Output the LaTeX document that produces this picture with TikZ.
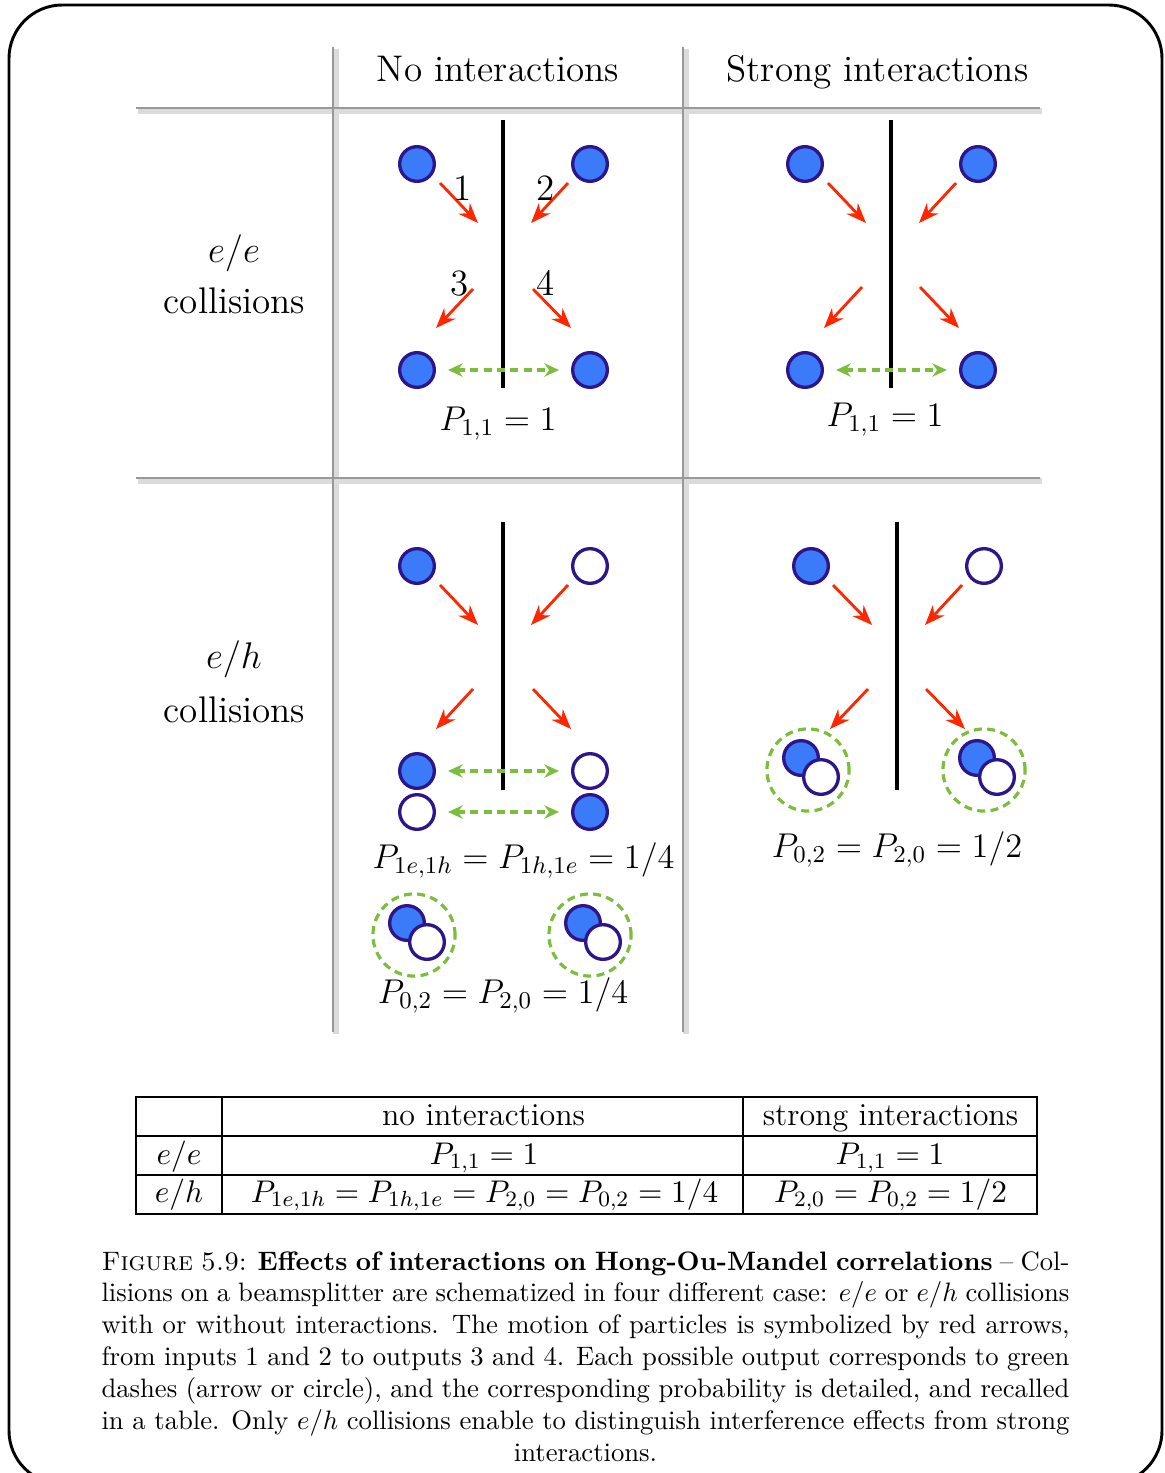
\documentclass[tikz,border=0pt]{standalone}
\usepackage{fix-cm}
\usetikzlibrary{arrows.meta}

\definecolor{partblue}{RGB}{59,123,250}
\definecolor{partedge}{RGB}{45,22,140}
\definecolor{flightred}{RGB}{255,38,0}
\definecolor{outgreen}{RGB}{122,190,60}

\tikzset{
  elec/.style={circle, draw=partedge, fill=partblue, line width=1.25pt, minimum size=13pt, inner sep=0pt},
  hole/.style={elec, fill=white},
  ring/.style={circle, draw=outgreen, dash pattern=on 3pt off 2pt, line width=1.2pt, minimum size=30.8pt, inner sep=0pt},
  splitter/.style={line width=1.3pt},
  flight/.style={draw=flightred, line width=1.05pt, -{Stealth[length=7.5pt,width=5.8pt]}},
  swap/.style={draw=outgreen, line width=1.25pt, dash pattern=on 3pt off 2pt,
    {Stealth[length=5.5pt,width=5pt]}-{Stealth[length=5.5pt,width=5pt]}, shorten <=4.5pt, shorten >=4.5pt},
  lbl/.style={font=\fontsize{13.9}{16}\selectfont, inner sep=0pt, anchor=base},
  mlbl/.style={font=\fontsize{12.9}{15}\selectfont, inner sep=0pt, anchor=base},
  cell/.style={font=\fontsize{12}{14}\selectfont, inner sep=0pt, anchor=base},
  mcell/.style={font=\fontsize{11.75}{14}\selectfont, inner sep=0pt, anchor=base},
  rule/.style={draw=gray!80, line width=1pt},
  ruleshade/.style={draw=gray!28, line width=2pt},
}

\begin{document}
\begin{tikzpicture}[x=0.375pt,y=-0.375pt]
   \useasboundingbox (0,0) rectangle (1164,1473);
   % Frame
   \draw[line width=1.1pt, rounded corners=20pt] (9,5) rectangle (1162,1484);

   % Grid of the figure
   \draw[ruleshade] (138,111) -- (1042,111);
   \draw[ruleshade] (138,481) -- (1042,481);
   \draw[ruleshade] (336,49) -- (336,1034);
   \draw[ruleshade] (686,49) -- (686,1034);
   \draw[rule] (136,108) -- (1040,108);
   \draw[rule] (136,478) -- (1040,478);
   \draw[rule] (333,47) -- (333,1032);
   \draw[rule] (683,47) -- (683,1032);

   % Headers
   \node[lbl] (hd-no) at (498,82) {No interactions};
   \node[lbl] (hd-strong) at (877.5,82) {Strong interactions};
   \node[lbl] (row-ee) at (234,262) {$e/e$};
   \node[lbl] (row-ee2) at (234.5,313) {collisions};
   \node[lbl] (row-eh) at (234,668) {$e/h$};
   \node[lbl] (row-eh2) at (234.5,722) {collisions};

   % First cell - e/e, no interactions
   \begin{scope}[shift={(503,164)}]
       % Draw beamsplitter
       \draw[splitter] (0,-44) -- (0,224);

       % Draw particles
       \node[elec] (a1) at (-86,0) {};
       \node[elec] (a2) at (87,0) {};
       \node[elec] (a3) at (-86,206) {};
       \node[elec] (a4) at (87,206) {};

       % Draw motion
       \foreach \n/\sx/\sy/\ex/\ey in {1/-63/19/-25/59, 2/65/19/28/59, 3/-30/125/-67/164, 4/30/125/68/164}
           \draw[flight] (\sx,\sy) coordinate (a\n s) -- (\ex,\ey) coordinate (a\n e);
       \node[lbl] (a-n1) at (-40,36) {1};
       \node[lbl] (a-n2) at (43,36) {2};
       \node[lbl] (a-n3) at (-43,131) {3};
       \node[lbl] (a-n4) at (43,131) {4};

       % Draw output
       \draw[swap] (a3) -- (a4);
       \node[mlbl] (a-p) at (-5,266) {$P_{1,1}=1$};
   \end{scope}

   % Second cell - e/e, strong interactions
   \begin{scope}[shift={(891,164)}]
       % Draw beamsplitter
       \draw[splitter] (0,-44) -- (0,224);

       % Draw particles
       \node[elec] (b1) at (-86,0) {};
       \node[elec] (b2) at (87,0) {};
       \node[elec] (b3) at (-86,206) {};
       \node[elec] (b4) at (87,206) {};

       % Draw motion
       \foreach \n/\sx/\sy/\ex/\ey in {1/-63/19/-25/59, 2/65/19/28/59, 3/-29/123/-67/164, 4/29/123/68/164}
           \draw[flight] (\sx,\sy) coordinate (b\n s) -- (\ex,\ey) coordinate (b\n e);

       % Draw output
       \draw[swap] (b3) -- (b4);
       \node[mlbl] (b-p) at (-6,262) {$P_{1,1}=1$};
   \end{scope}

   % Third cell - e/h, no interactions
   \begin{scope}[shift={(503,566)}]
       % Draw beamsplitter
       \draw[splitter] (0,-44) -- (0,224);

       % Draw particles
       \node[elec] (c1) at (-86,0) {};
       \node[hole] (c2) at (87,0) {};
       \node[elec] (c3) at (-86,205) {};
       \node[hole] (c4) at (87,205) {};
       \node[hole] (c5) at (-86,246) {};
       \node[elec] (c6) at (87,246) {};

       % Draw motion
       \foreach \n/\sx/\sy/\ex/\ey in {1/-63/19/-25/59, 2/65/19/28/59, 3/-30/123/-67/163, 4/30/123/68/163}
           \draw[flight] (\sx,\sy) coordinate (c\n s) -- (\ex,\ey) coordinate (c\n e);

       % Draw outputs
       \draw[swap] (c3) -- (c4);
       \draw[swap] (c5) -- (c6);
       \node[mlbl] (c-p1) at (20.5,302) {$P_{1e,1h}=P_{1h,1e}=1/4$};

       \node[ring] (c-r1) at (-89,369) {};
       \node[elec] (c-r1e) at (-96,357) {};
       \node[hole] (c-r1h) at (-76,376) {};
       \node[ring] (c-r2) at (87,369) {};
       \node[elec] (c-r2e) at (80,357) {};
       \node[hole] (c-r2h) at (100,376) {};
       \node[mlbl] (c-p2) at (0,437) {$P_{0,2}=P_{2,0}=1/4$};
   \end{scope}

   % Fourth cell - e/h, strong interactions
   \begin{scope}[shift={(897,566)}]
       % Draw beamsplitter
       \draw[splitter] (0,-44) -- (0,224);

       % Draw particles
       \node[elec] (d1) at (-86,0) {};
       \node[hole] (d2) at (87,0) {};

       % Draw motion
       \foreach \n/\sx/\sy/\ex/\ey in {1/-64/19/-25/59, 2/65/19/28/59, 3/-29/123/-67/163, 4/29/123/68/163}
           \draw[flight] (\sx,\sy) coordinate (d\n s) -- (\ex,\ey) coordinate (d\n e);

       % Draw outputs
       \node[ring] (d-r1) at (-89,204) {};
       \node[elec] (d-r1e) at (-96,192) {};
       \node[hole] (d-r1h) at (-76,211) {};
       \node[ring] (d-r2) at (87,204) {};
       \node[elec] (d-r2e) at (80,192) {};
       \node[hole] (d-r2h) at (100,211) {};
       \node[mlbl] (d-p) at (0,291) {$P_{0,2}=P_{2,0}=1/2$};
   \end{scope}

   % Summary table
   \draw[line width=0.5pt] (136,1097) rectangle (1037,1214);
   \draw[line width=0.5pt] (136,1136) -- (1037,1136);
   \draw[line width=0.5pt] (136,1175) -- (1037,1175);
   \draw[line width=0.5pt] (222,1097) -- (222,1214);
   \draw[line width=0.5pt] (743,1097) -- (743,1214);
   \node[cell] (t-no) at (483.5,1125) {no interactions};
   \node[cell] (t-strong) at (890.5,1125) {strong interactions};
   \node[mcell] (t-ee) at (179,1164) {$e/e$};
   \node[mcell] (t-ee1) at (484,1164) {$P_{1,1}=1$};
   \node[mcell] (t-ee2) at (890,1164) {$P_{1,1}=1$};
   \node[mcell] (t-eh) at (179,1202) {$e/h$};
   \node[mcell] (t-eh1) at (484.5,1202) {$P_{1e,1h}=P_{1h,1e}=P_{2,0}=P_{0,2}=1/4$};
   \node[mcell] (t-eh2) at (890.5,1202) {$P_{2,0}=P_{0,2}=1/2$};

   % Caption
   \node[anchor=base, inner sep=0pt, font=\fontsize{10}{11.95}\selectfont] (caption) at (585.5,1270)
   {\parbox[t]{363pt}{\leftskip=0pt plus 1fil \rightskip=0pt plus -1fil \parfillskip=0pt plus 2fil
    \textsc{Figure 5.9}: \textbf{Effects of interactions on Hong-Ou-Mandel correlations} -- Collisions on a beamsplitter are schematized in four different case: $e/e$ or $e/h$ collisions with or without interactions. The motion of particles is symbolized by red arrows, from inputs 1 and 2 to outputs 3 and 4. Each possible output corresponds to green dashes (arrow or circle), and the corresponding probability is detailed, and recalled in a table. Only $e/h$ collisions enable to distinguish interference effects from strong interactions.}};
\end{tikzpicture}
\end{document}
